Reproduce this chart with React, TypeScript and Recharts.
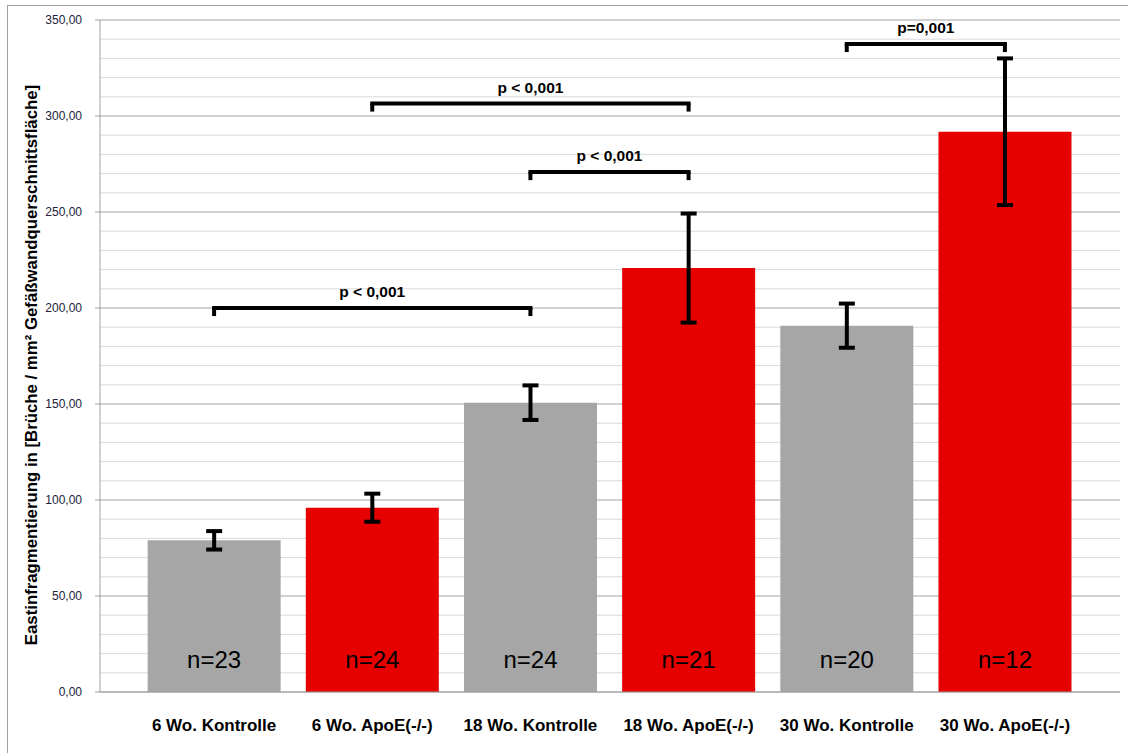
import React from "react";
import {
  BarChart,
  Bar,
  Cell,
  XAxis,
  YAxis,
  CartesianGrid,
  ErrorBar,
  LabelList,
  ReferenceLine,
} from "recharts";

// Elastin fragmentation per group.
const GROUPS = [
  "6 Wo. Kontrolle",
  "6 Wo. ApoE(-/-)",
  "18 Wo. Kontrolle",
  "18 Wo. ApoE(-/-)",
  "30 Wo. Kontrolle",
  "30 Wo. ApoE(-/-)",
];
const MEANS = [79.0, 96.0, 150.7, 220.8, 190.8, 291.8];
const ERRORS = [4.8, 7.3, 9.0, 28.4, 11.5, 38.2];
const N_COUNTS = [23, 24, 24, 21, 20, 12];
const IS_APOE = [false, true, false, true, false, true];

const Y_TICKS = [
  0, 10, 20, 30, 40, 50, 60, 70, 80, 90, 100, 110, 120, 130, 140, 150, 160, 170,
  180, 190, 200, 210, 220, 230, 240, 250, 260, 270, 280, 290, 300, 310, 320,
  330, 340, 350,
];
const Y_LABELED = [0, 50, 100, 150, 200, 250, 300, 350];

// significance brackets
const BRACKET_FROM = [GROUPS[0], GROUPS[1], GROUPS[2], GROUPS[4]];
const BRACKET_TO = [GROUPS[2], GROUPS[3], GROUPS[3], GROUPS[5]];
const BRACKET_Y = [200, 306.5, 270.8, 337.5];
const BRACKET_TEXT = ["p < 0,001", "p < 0,001", "p < 0,001", "p=0,001"];
const LEG = 4.2;

const GREY = "#a6a6a6";
const RED = "#e60000";
const AXIS = "#a0a0a0";
const GRID_MAJOR = "#a3a3a3";
const GRID_MINOR = "#d9d9d9";
const TICK_TEXT = "#22223a";

const data = GROUPS.map((g, i) => ({
  name: g,
  value: MEANS[i],
  err: ERRORS[i],
  n: N_COUNTS[i],
}));

const fmt = (v: number) => v.toFixed(2).replace(".", ",");

function YTick(props: any) {
  const { x, y, payload } = props;
  if (!Y_LABELED.includes(payload.value)) return <g />;
  return (
    <g>
      <line x1={x + 13} x2={x + 18} y1={y} y2={y} stroke={AXIS} />
      <text x={x} y={y} dy={4} textAnchor="end" fontSize={12} fill={TICK_TEXT}>
        {fmt(payload.value)}
      </text>
    </g>
  );
}

function GridLine(props: any) {
  const { x1, x2, y1, y2, y, height } = props;
  const v = Math.round(((y + height - y1) / height) * 350);
  const major = v % 50 === 0;
  return (
    <line
      key={props.key}
      x1={x1}
      x2={x2}
      y1={y1}
      y2={y2}
      stroke={major ? GRID_MAJOR : GRID_MINOR}
      strokeWidth={major ? 1.2 : 1}
    />
  );
}

function YLabel(props: any) {
  const { viewBox } = props;
  const cx = viewBox.x - 3;
  const cy = viewBox.y + viewBox.height / 2 + 9;
  return (
    <text
      x={cx}
      y={cy}
      textAnchor="middle"
      fontSize={16.8}
      fontWeight={700}
      fill="#000"
      transform={`rotate(-90 ${cx} ${cy})`}
    >
      Eastinfragmentierung in [Brüche / mm² Gefäßwandquerschnittsfläche]
    </text>
  );
}

export default function App() {
  return (
    <div
      style={{
        position: "fixed",
        left: 0,
        top: 0,
        width: 1128,
        height: 753,
        overflow: "hidden",
        background: "#fff",
        fontFamily: "'Liberation Sans', Arial, sans-serif",
      }}
    >
      <div
        style={{
          position: "absolute",
          left: 7,
          top: 5,
          width: 1200,
          height: 800,
          border: `1px solid ${AXIS}`,
        }}
      />
      <div style={{ position: "absolute", left: 0, top: 0 }}>
        <BarChart
          width={1128}
          height={753}
          data={data}
          margin={{ top: 20, right: 8, bottom: 21, left: 40 }}
          barCategoryGap="8%"
        >
          <CartesianGrid vertical={false} horizontal={GridLine} />
          <XAxis
            dataKey="name"
            padding={{ left: 35, right: 36 }}
            axisLine={{ stroke: AXIS }}
            tickLine={false}
            tickSize={6}
            tickMargin={21}
            height={40}
            interval={0}
            tick={{ fontSize: 17, fontWeight: 700, fill: "#000" }}
          />
          <YAxis
            domain={[0, 350]}
            ticks={Y_TICKS}
            interval={0}
            width={60}
            tickSize={5}
            tickMargin={13}
            tickLine={false}
            axisLine={{ stroke: AXIS }}
            tick={YTick}
            label={<YLabel />}
          />
          <Bar dataKey="value" isAnimationActive={false}>
            {data.map((_, i) => (
              <Cell key={i} fill={IS_APOE[i] ? RED : GREY} />
            ))}
            <ErrorBar dataKey="err" width={8} stroke="#000" strokeWidth={4} />
            <LabelList
              dataKey="n"
              position="insideBottom"
              offset={24}
              formatter={(v: any) => `n=${v}`}
              fill="#000"
              fontSize={24}
            />
          </Bar>
          {BRACKET_Y.map((yv, i) => (
            <ReferenceLine
              key={`b${i}`}
              segment={[
                { x: BRACKET_FROM[i], y: yv },
                { x: BRACKET_TO[i], y: yv },
              ]}
              stroke="#000"
              strokeWidth={4}
              strokeLinecap="square"
              label={{
                value: BRACKET_TEXT[i],
                position: "top",
                offset: 11,
                fontSize: 15.5,
                fontWeight: 700,
                fill: "#000",
              }}
            />
          ))}
          {BRACKET_Y.map((yv, i) => (
            <ReferenceLine
              key={`l${i}`}
              segment={[
                { x: BRACKET_FROM[i], y: yv },
                { x: BRACKET_FROM[i], y: yv - LEG },
              ]}
              stroke="#000"
              strokeWidth={4}
            />
          ))}
          {BRACKET_Y.map((yv, i) => (
            <ReferenceLine
              key={`r${i}`}
              segment={[
                { x: BRACKET_TO[i], y: yv },
                { x: BRACKET_TO[i], y: yv - LEG },
              ]}
              stroke="#000"
              strokeWidth={4}
            />
          ))}
        </BarChart>
      </div>
    </div>
  );
}
